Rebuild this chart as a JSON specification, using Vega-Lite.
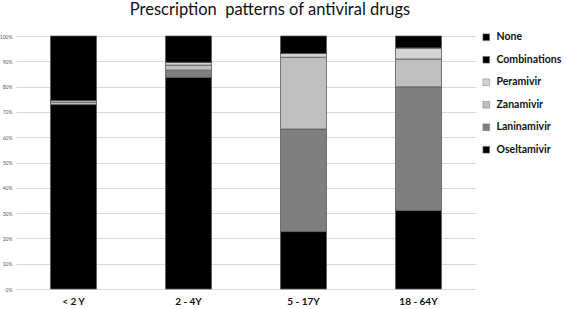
{
  "$schema": "https://vega.github.io/schema/vega-lite/v6.json",
  "width": 460,
  "height": 253,
  "autosize": {"type": "none"},
  "padding": {"left": 16, "top": 36, "right": 91, "bottom": 20},
  "background": "white",
  "title": {"text": "Prescription\u00a0 patterns of antiviral drugs", "font": "Lato", "fontSize": 16.5, "fontWeight": "normal", "color": "#111111", "anchor": "middle", "dx": 24, "offset": 14},
  "data": {"values": [
    {"age": "< 2 Y", "drug": "Oseltamivir", "rank": 1, "pct": 72.9},
    {"age": "< 2 Y", "drug": "Laninamivir", "rank": 2, "pct": 0},
    {"age": "< 2 Y", "drug": "Zanamivir", "rank": 3, "pct": 1.0},
    {"age": "< 2 Y", "drug": "Peramivir", "rank": 4, "pct": 0.6},
    {"age": "< 2 Y", "drug": "Combinations", "rank": 5, "pct": 0},
    {"age": "< 2 Y", "drug": "None", "rank": 6, "pct": 25.5},
    {"age": "2 - 4Y", "drug": "Oseltamivir", "rank": 1, "pct": 83.7},
    {"age": "2 - 4Y", "drug": "Laninamivir", "rank": 2, "pct": 2.8},
    {"age": "2 - 4Y", "drug": "Zanamivir", "rank": 3, "pct": 2.0},
    {"age": "2 - 4Y", "drug": "Peramivir", "rank": 4, "pct": 1.1},
    {"age": "2 - 4Y", "drug": "Combinations", "rank": 5, "pct": 0},
    {"age": "2 - 4Y", "drug": "None", "rank": 6, "pct": 10.4},
    {"age": "5 - 17Y", "drug": "Oseltamivir", "rank": 1, "pct": 22.7},
    {"age": "5 - 17Y", "drug": "Laninamivir", "rank": 2, "pct": 40.5},
    {"age": "5 - 17Y", "drug": "Zanamivir", "rank": 3, "pct": 28.4},
    {"age": "5 - 17Y", "drug": "Peramivir", "rank": 4, "pct": 1.5},
    {"age": "5 - 17Y", "drug": "Combinations", "rank": 5, "pct": 0},
    {"age": "5 - 17Y", "drug": "None", "rank": 6, "pct": 6.9},
    {"age": "18 - 64Y", "drug": "Oseltamivir", "rank": 1, "pct": 31.0},
    {"age": "18 - 64Y", "drug": "Laninamivir", "rank": 2, "pct": 48.9},
    {"age": "18 - 64Y", "drug": "Zanamivir", "rank": 3, "pct": 11.0},
    {"age": "18 - 64Y", "drug": "Peramivir", "rank": 4, "pct": 4.4},
    {"age": "18 - 64Y", "drug": "Combinations", "rank": 5, "pct": 0},
    {"age": "18 - 64Y", "drug": "None", "rank": 6, "pct": 4.7}
  ]},
  "mark": {"type": "bar", "stroke": "#5a5a5a", "strokeWidth": 0.8},
  "encoding": {
    "x": {"field": "age", "type": "nominal", "sort": ["< 2 Y", "2 - 4Y", "5 - 17Y", "18 - 64Y"],
      "scale": {"paddingInner": 0.6, "paddingOuter": 0.3},
      "axis": {"title": null, "labelAngle": 0, "labelFont": "Lato", "labelFontSize": 10, "labelFontWeight": "bold", "labelColor": "#111111", "ticks": false, "domain": false, "labelPadding": 7}},
    "y": {"field": "pct", "type": "quantitative", "stack": "zero",
      "scale": {"domain": [0, 100], "nice": false},
      "axis": {"title": null, "values": [0,10,20,30,40,50,60,70,80,90,100], "labelExpr": "datum.value + '%'", "labelFont": "Lato", "labelFontSize": 5, "labelColor": "#555555", "ticks": false, "domain": false, "labelPadding": 4, "gridColor": "#d9d9d9", "gridWidth": 1}},
    "color": {"field": "drug", "type": "nominal",
      "scale": {"domain": ["None", "Combinations", "Peramivir", "Zanamivir", "Laninamivir", "Oseltamivir"],
                "range": ["#000000", "#000000", "#d3d3d3", "#bfbfbf", "#7f7f7f", "#000000"]},
      "legend": {"title": null, "orient": "none", "legendX": 465, "legendY": -4, "symbolType": "square", "symbolSize": 45, "symbolStrokeColor": "#777777", "symbolStrokeWidth": 0.5, "labelFont": "Lato", "labelFontSize": 10.5, "labelFontWeight": "bold", "labelColor": "#111111", "rowPadding": 11.5, "labelOffset": 5}},
    "order": {"field": "rank", "type": "quantitative"}
  },
  "config": {"view": {"stroke": null}}
}
